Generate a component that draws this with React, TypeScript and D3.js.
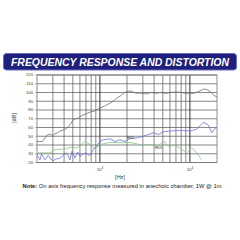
import React from "react";
import * as d3 from "d3";

const yTicks = [20, 30, 40, 50, 60, 70, 80, 90, 100, 110, 120];
const xGrid = [300, 400, 500, 600, 700, 800, 900, 1000, 2000, 3000, 4000, 5000, 6000, 7000, 8000, 9000, 10000];
const xTickLabels = [
  { f: 1000, base: "10", exp: "3" },
  { f: 10000, base: "10", exp: "4" },
];

const splFreq = [200, 231, 256, 279, 299, 317, 340, 360, 390, 428, 465, 506, 540, 575, 601, 680, 776, 880, 1000, 1150, 1294, 1400, 1537, 1680, 1820, 1986, 2160, 2350, 2563, 2750, 2911, 3100, 3311, 3550, 3760, 4000, 4275, 4650, 5020, 5500, 6010, 6800, 7760, 8500, 9200, 10000, 10820, 11800, 12940, 14000, 14720, 15700, 16720, 18000, 19000, 20000];
const splDb = [44, 44, 51, 52.6, 50.7, 53, 54, 56, 57, 59.4, 63, 69, 70, 70.8, 72.6, 75, 77.6, 79, 82, 85, 87.8, 90, 93.5, 96, 99, 101, 101.8, 100.5, 99, 99.5, 99, 98.8, 98.4, 99.5, 100, 99.4, 99, 100, 99.5, 99, 100, 100.5, 100.3, 99.5, 99, 99.3, 99, 100, 102, 103.5, 104, 103, 101, 98, 96, 95];

const hd2Freq = [200, 216, 225, 245, 267, 279, 301, 325, 360, 389, 428, 465, 490, 528, 564, 601, 682, 776, 845, 921, 1000, 1091, 1294, 1473, 1672, 1900, 2160, 2563, 3035, 3450, 3920, 4455, 5020, 6010, 7130, 8450, 10030, 11880, 14090, 16000, 17450, 19000, 20000];
const hd2Db = [29, 23, 30, 23, 28, 25, 22, 24, 25, 28, 31, 23, 33, 25, 32, 27, 31, 28, 35, 38.5, 44, 46, 47, 44, 46, 44, 47.6, 48, 50, 52, 54, 52, 55, 56, 56.5, 56.5, 56, 58, 66, 63, 54, 59, 60];

const hd3Freq = [200, 245, 279, 317, 360, 428, 465, 552, 601, 682, 776, 881, 1000, 1294, 1672, 2160, 2786, 3604, 4275, 4660, 5055, 5750, 6820, 8110, 9200, 10480, 11880, 13520];
const hd3Db = [31, 31, 31, 35, 35, 35.6, 37.4, 36.7, 39, 44, 40.5, 35.6, 40.5, 43, 42.6, 43, 40.5, 40.5, 38.5, 40.5, 45, 38.5, 39.5, 35, 31, 37, 31, 23];

const title = "FREQUENCY RESPONSE AND DISTORTION";

export default function App() {
  const left = 37, right = 217, top = 75, bottom = 162.5;
  const x = d3.scaleLog().domain([200, 20000]).range([left, right]);
  const y = d3.scaleLinear().domain([20, 120]).range([bottom, top]);
  const mk = (fs: number[], ds: number[]) =>
    d3.line<number>().x((_, i) => x(fs[i])).y((_, i) => y(ds[i]))(fs) || "";
  const minor = d3.range(25, 120, 10);
  return (
    <svg width={240} height={240} style={{ position: "absolute", left: 0, top: 0 }} fontFamily="Arial, 'Liberation Sans', sans-serif">
      <rect x={0} y={0} width={240} height={240} fill="#fff" />
      <rect x={3.5} y={53.5} width={233} height={16.5} rx={3} fill="#1f1f7c" stroke="#6a6ac0" strokeWidth={1} />
      <text x={120} y={65.8} textAnchor="middle" fill="#fff" fontSize={10.2} fontWeight="bold" fontStyle="italic" textLength={218} lengthAdjust="spacingAndGlyphs">{title}</text>

      {yTicks.map(t => (
        <line key={"h" + t} x1={left} x2={right} y1={y(t)} y2={y(t)} stroke="#555" strokeWidth={0.7} />
      ))}
      {xGrid.map(f => (
        <line key={"v" + f} x1={x(f)} x2={x(f)} y1={top} y2={bottom} stroke={f === 1000 || f === 10000 ? "#333" : "#555"} strokeWidth={f === 1000 || f === 10000 ? 1 : 0.7} />
      ))}
      <rect x={left} y={top} width={right - left} height={bottom - top} fill="none" stroke="#777" strokeWidth={0.8} />
      {yTicks.map(t => (
        <line key={"t" + t} x1={left - 2} x2={left} y1={y(t)} y2={y(t)} stroke="#777" strokeWidth={0.5} />
      ))}
      {minor.map(t => (
        <line key={"m" + t} x1={left - 1} x2={left} y1={y(t)} y2={y(t)} stroke="#777" strokeWidth={0.4} />
      ))}
      {yTicks.map(t => (
        <text key={"l" + t} x={left - 4} y={y(t) + 1.4} textAnchor="end" fontSize={4.2} fill="#333">{t}</text>
      ))}
      {xTickLabels.map(t => (
        <text key={"x" + t.f} x={x(t.f)} y={171} textAnchor="middle" fontSize={4.2} fill="#333">
          {t.base}<tspan dy={-1.6} fontSize={3}>{t.exp}</tspan>
        </text>
      ))}

      <path d={mk(hd3Freq, hd3Db)} fill="none" stroke="#86c686" strokeWidth={0.8} />
      <path d={mk(hd2Freq, hd2Db)} fill="none" stroke="#6e6ee0" strokeWidth={0.8} />
      <path d={mk(splFreq, splDb)} fill="none" stroke="#6e6e6e" strokeWidth={0.8} />

      <text x={x(2000)} y={y(46.5)} fontSize={3.4} fill="#222">HD2</text>
      <text x={x(4100)} y={y(35.5)} fontSize={3.4} fill="#222">HD3</text>

      <text x={16} y={118} transform="rotate(-90 16 118)" textAnchor="middle" fontSize={5.5} fill="#333">[dB]</text>
      <text x={120} y={179} textAnchor="middle" fontSize={5.5} fill="#333">[Hz]</text>
      <text x={122} y={188} textAnchor="middle" fontSize={5.2} fill="#222" textLength={199} lengthAdjust="spacingAndGlyphs">
        <tspan fontWeight="bold">Note:</tspan> On axis frequency response measured in anechoic chamber, 1W @ 1m
      </text>
    </svg>
  );
}
